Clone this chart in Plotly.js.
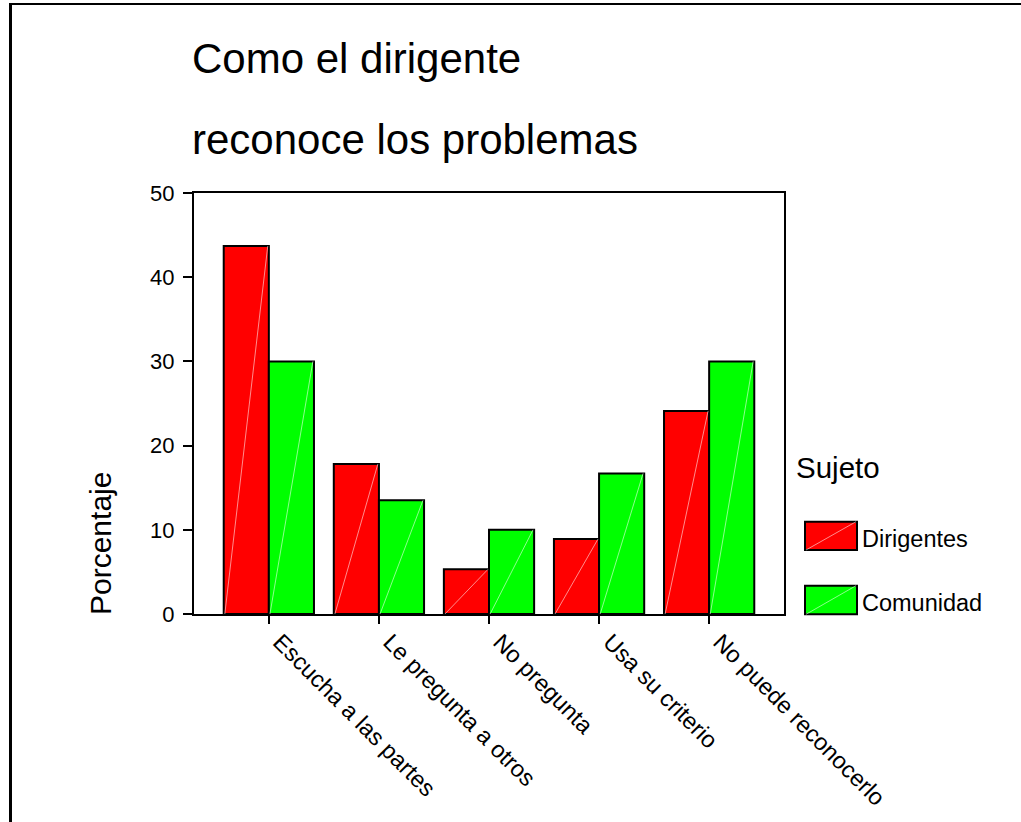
<!DOCTYPE html>
<html>
<head>
<meta charset="utf-8">
<script src="https://cdn.plot.ly/plotly-3.0.1.min.js"></script>
<style>
  html, body { margin: 0; padding: 0; background: #fff; }
  #chart { width: 1021px; height: 822px; }
</style>
</head>
<body>
<div id="chart"></div>
<script>
// Categories and percentages per group
const categories = ["Escucha a las partes", "Le pregunta a otros", "No pregunta", "Usa su criterio", "No puede reconocerlo"];
const dirigentes = [43.7, 17.8, 5.3, 8.9, 24.1];
const comunidad = [30.0, 13.5, 10.0, 16.7, 30.0];
const seriesNames = ["Dirigentes", "Comunidad"];
const seriesColors = ["#ff0000", "#00ff00"];
const titleLines = ["Como el dirigente", "reconoce los problemas"];
const legendTitle = "Sujeto";
const yTitle = "Porcentaje";

const FONT = "Liberation Sans, Arial, Helvetica, sans-serif";
const W = 1021, H = 822;
const M = { l: 194, r: 237, t: 193, b: 208 };
const plotW = W - M.l - M.r, plotH = H - M.t - M.b;
// pixel -> paper helpers for the decorations around the plot area
const px = v => (v - M.l) / plotW;
const py = v => (H - M.b - v) / plotH;

const bargap = 0.18;
const barW = (1 - bargap) / 2;
const xIdx = categories.map((_, i) => i);

const traces = [dirigentes, comunidad].map((vals, k) => ({
  type: "bar",
  name: seriesNames[k],
  x: xIdx,
  y: vals,
  marker: { color: seriesColors[k], line: { color: "#000", width: 2 } },
  hoverinfo: "x+y+name",
  showlegend: false
}));

// faint diagonal highlight inside each bar, from its lower-left to upper-right corner
const shapes = [];
[dirigentes, comunidad].forEach((vals, k) => {
  vals.forEach((v, i) => {
    const x0 = i - barW + k * barW;
    shapes.push({
      type: "line", xref: "x", yref: "y",
      x0: x0 + 0.01, y0: 0, x1: x0 + barW - 0.01, y1: v,
      line: { color: "rgba(255,255,255,0.55)", width: 1 },
      layer: "above"
    });
  });
});

// legend swatches
const swatches = [[521.7, 550], [585.7, 614.3]];
swatches.forEach((s, k) => {
  shapes.push({
    type: "rect", xref: "paper", yref: "paper",
    x0: px(805), x1: px(857), y0: py(s[1]), y1: py(s[0]),
    fillcolor: seriesColors[k], line: { color: "#000", width: 2 }
  });
  shapes.push({
    type: "line", xref: "paper", yref: "paper",
    x0: px(806), x1: px(856), y0: py(s[1]), y1: py(s[0]),
    line: { color: "rgba(255,255,255,0.55)", width: 1 }
  });
});

// outer frame (top and left edges)
shapes.push({ type: "line", xref: "paper", yref: "paper",
  x0: px(10.5), x1: px(10.5), y0: py(4), y1: py(H + 10),
  line: { color: "#000", width: 3 } });
shapes.push({ type: "line", xref: "paper", yref: "paper",
  x0: px(9), x1: px(W + 10), y0: py(4), y1: py(4),
  line: { color: "#000", width: 2 } });

const annotations = [
  { text: titleLines[0], x: px(190), y: py(58), xanchor: "left", yanchor: "middle",
    font: { size: 42, color: "#000", family: FONT } },
  { text: titleLines[1], x: px(190), y: py(139), xanchor: "left", yanchor: "middle",
    font: { size: 42, color: "#000", family: FONT } },
  { text: yTitle, x: px(100), y: py(544), xanchor: "center", yanchor: "middle", textangle: -90,
    font: { size: 30, color: "#000", family: FONT } },
  { text: legendTitle, x: px(794), y: py(467), xanchor: "left", yanchor: "middle",
    font: { size: 29.5, color: "#000", family: FONT } },
  { text: seriesNames[0], x: px(860), y: py(539), xanchor: "left", yanchor: "middle",
    font: { size: 23.5, color: "#000", family: FONT } },
  { text: seriesNames[1], x: px(860), y: py(603), xanchor: "left", yanchor: "middle",
    font: { size: 23.5, color: "#000", family: FONT } }
].map(a => Object.assign({ xref: "paper", yref: "paper", showarrow: false }, a));

const layout = {
  width: W, height: H,
  margin: M,
  paper_bgcolor: "#fff",
  plot_bgcolor: "#fff",
  font: { family: FONT, color: "#000" },
  barmode: "group",
  bargap: bargap,
  bargroupgap: 0,
  showlegend: false,
  xaxis: {
    range: [-0.68, categories.length - 1 + 0.68],
    tickvals: xIdx,
    ticktext: categories,
    tickangle: 45,
    ticks: "outside", ticklen: 8, tickwidth: 2, tickcolor: "#000",
    showline: true, linecolor: "#000", linewidth: 2, mirror: true,
    showgrid: false, zeroline: false,
    ticklabelshift: 11,
    ticklabelstandoff: -5,
    tickfont: { size: 23.5, family: FONT, color: "#000" }
  },
  yaxis: {
    range: [0, 50],
    dtick: 10,
    ticks: "outside", ticklen: 9, tickwidth: 2, tickcolor: "#000",
    showline: true, linecolor: "#000", linewidth: 2, mirror: true,
    showgrid: false, zeroline: false,
    ticklabelstandoff: 4,
    tickfont: { size: 22, family: FONT, color: "#000" }
  },
  shapes: shapes,
  annotations: annotations
};

Plotly.newPlot("chart", traces, layout, { displayModeBar: false, staticPlot: true });
</script>
</body>
</html>
